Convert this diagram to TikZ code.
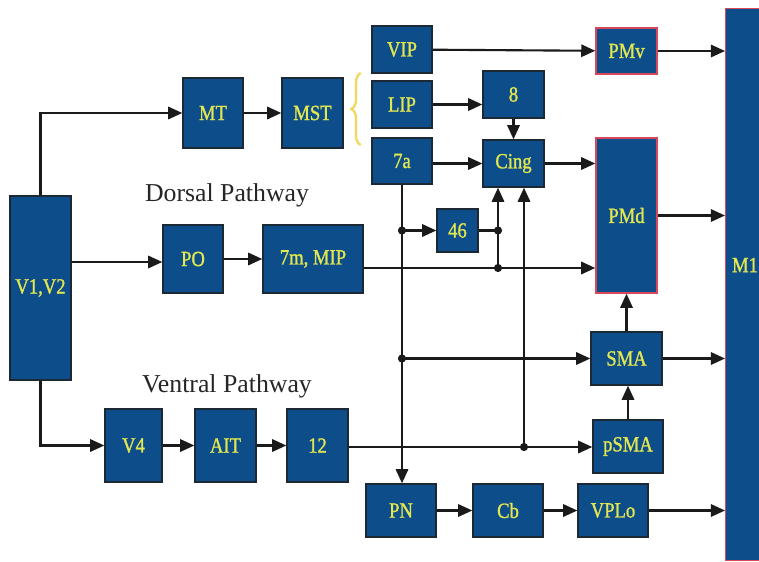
\documentclass[tikz,border=0pt]{standalone}
\usepackage{fontspec}
\setmainfont{Liberation Serif}
\newfontfamily\areafam[FakeStretch=0.86,FakeBold=1.2]{Liberation Serif}
\usetikzlibrary{arrows.meta,positioning,calc,decorations.pathreplacing}
\definecolor{areablue}  {HTML}{0D4E8A}
\definecolor{areaedge}  {HTML}{1C2833}
\definecolor{motorred}  {HTML}{D9485A}
\definecolor{labelyel}  {HTML}{E2E650}
\definecolor{braceyel}  {HTML}{F2D860}
\definecolor{linedark}  {HTML}{1A1A1A}
\newcommand\boxfont{\areafam\fontsize{18.5}{20}\selectfont}
\newcommand\pathfont{\fontsize{22}{24}\selectfont}
\tikzset{
  area/.style={draw=areaedge,line width=1.2pt,fill=areablue,text=labelyel,font=\boxfont,inner sep=0pt},
  motor/.style={area,draw=motorred},
  sz/.style 2 args={minimum width=#1*0.03cm,minimum height=#2*0.03cm},
  arr/.style={draw=linedark,line width=1.8pt,-{Triangle[length=12pt,width=10.5pt]}},
  wire/.style={draw=linedark,line width=1.8pt},
  jdot/.style={fill=linedark,circle,inner sep=0pt,minimum size=7pt}
}
\begin{document}
\begin{tikzpicture}[x=0.03cm,y=-0.03cm]
\useasboundingbox(0,0)rectangle(759,561);
\clip(0,0)rectangle(759,561);
% visual input
\node[area,sz={61}{184}](v1v2)at(40.5,288){V1,V2};
% dorsal stream
\node[area,sz={60}{70}](mt)at(213,113){MT};
\node[area,sz={61}{70}](mst)at(312.5,113){MST};
\node[area,sz={60}{68}](po)at(193,259){PO};
\node[area,sz={100}{68}](mip)at(313,259){7m, MIP};
\node[area,sz={60}{47}](vip)at(402,49.5){VIP};
\node[area,sz={60}{47}](lip)at(402,104.5){LIP};
\node[area,sz={60}{46}](a7)at(402,161){7a};
\node[area,sz={61}{47}](a8)at(513.5,94.5){8};
\node[area,sz={61}{47}](cing)at(513.5,163.5){Cing};
\node[area,sz={41}{43}](a46)at(457.5,230.5){46};
% ventral stream
\node[area,sz={57}{73}](v4)at(133.5,445.5){V4};
\node[area,sz={61}{73}](ait)at(225.5,445.5){AIT};
\node[area,sz={61}{73}](a12)at(317.5,445.5){12};
% motor areas
\node[motor,sz={61}{46}](pmv)at(626.5,51){PMv};
\node[motor,sz={61}{155}](pmd)at(626.5,215.5){PMd};
\node[motor,sz={50}{552},anchor=north west](m1)at(725,8){};
\node[text=labelyel,font=\boxfont](m1txt)at(745,265){M1};
\node[area,sz={71}{53}](sma)at(626.5,358.5){SMA};
\node[area,sz={70}{53}](psma)at(628,446.5){pSMA};
\node[area,sz={70}{53}](pn)at(401,510.5){PN};
\node[area,sz={70}{53}](cb)at(508,510.5){Cb};
\node[area,sz={70}{53}](vplo)at(613,510.5){VPLo};
% pathway labels
\node[font=\pathfont,text=black!85](dorsal)at(227,195){Dorsal Pathway};
\node[font=\pathfont,text=black!85](ventral)at(227,386){Ventral Pathway};
% brace
\draw[decorate,decoration={brace,amplitude=8pt},draw=braceyel,line width=2pt]
  ($(mst.east)+(17,32)$)--($(mst.east)+(17,-40)$);
% junctions
\coordinate(j46)at(a7.south|-a46.west);
\coordinate(js)at(a7.south|-sma.west);
\coordinate(jc)at(498,230.5);
\coordinate(jm)at(498,268);
\coordinate(jp)at(524,447);
% connectors
\draw[arr](v1v2.north)|-(mt.west);
\draw[arr](v1v2.east|-0,262)--(po.west|-0,262);
\draw[arr](v1v2.south)|-(v4.west);
\draw[arr](mt)--(mst);
\draw[arr](po)--(mip);
\draw[arr](v4)--(ait);
\draw[arr](ait)--(a12);
\draw[arr](vip)--(pmv);
\draw[arr](pmv.east)--(pmv.east-|m1.west);
\draw[arr](lip)--(lip-|a8.west);
\draw[arr](a8)--(cing);
\draw[arr](a7.east|-cing)--(cing.west);
\draw[arr](cing.east)--(cing.east-|pmd.west);
\draw[arr](pmd.east)--(pmd.east-|m1.west);
\draw[arr](a7.south)--(a7.south|-pn.north);
\draw[arr](j46)--(a46.west);
\draw[wire](a46.east)--(jc);
\draw[arr](mip.east|-jm)--(jm-|pmd.west);
\draw[arr](jm)--(jm|-cing.south);
\draw[arr](a12.east|-jp)--(jp-|psma.west);
\draw[arr](jp)--(jp|-cing.south);
\draw[arr](js)--(sma.west);
\draw[arr](sma.east)--(sma.east-|m1.west);
\draw[arr](sma.north)--(sma.north|-pmd.south);
\draw[arr](psma.north)--(psma.north|-sma.south);
\draw[arr](pn)--(cb);
\draw[arr](cb)--(vplo);
\draw[arr](vplo.east)--(vplo.east-|m1.west);
\foreach \j in {j46,js,jc,jm,jp}\node[jdot]at(\j){};
\end{tikzpicture}
\end{document}
